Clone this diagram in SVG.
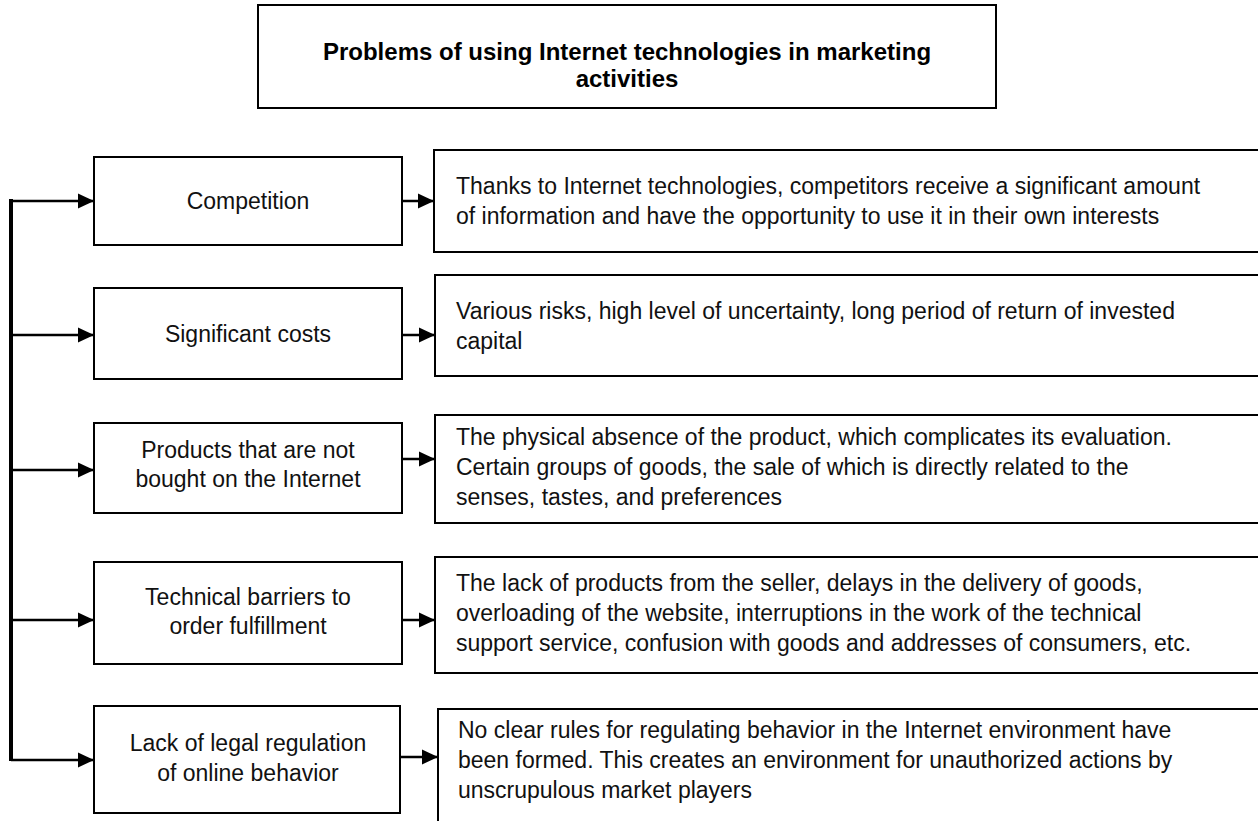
<svg xmlns="http://www.w3.org/2000/svg" width="1258" height="821" viewBox="0 0 1258 821">
<defs>
<marker id="ah" viewBox="0 0 16 16" refX="16" refY="8" markerWidth="16" markerHeight="16" markerUnits="userSpaceOnUse" orient="auto">
<path d="M0,0.5 L16,8 L0,15.5 Z" fill="#000"/>
</marker>
<style>
.box{fill:#fff;stroke:#000;stroke-width:2}
.t{font-family:"Liberation Sans",Arial,sans-serif;font-size:23px;fill:#111}
.c{text-anchor:middle}
.tt{font-family:"Liberation Sans",Arial,sans-serif;font-size:24px;font-weight:bold;fill:#000;text-anchor:middle}
.ln{stroke:#000;stroke-width:2.5;fill:none}
</style>
</defs>
<rect width="1258" height="821" fill="#fff"/>
<g id="title">
<rect class="box" x="258" y="5" width="738" height="103"/>
<text class="tt" x="627" y="60">Problems of using Internet technologies in marketing</text>
<text class="tt" x="627" y="87">activities</text>
</g>
<g id="connectors">
<line x1="11" y1="199" x2="11" y2="761" stroke="#000" stroke-width="4"/>
<line class="ln" x1="11" y1="201" x2="94" y2="201" marker-end="url(#ah)"/>
<line class="ln" x1="11" y1="335" x2="94" y2="335" marker-end="url(#ah)"/>
<line class="ln" x1="11" y1="470" x2="94" y2="470" marker-end="url(#ah)"/>
<line class="ln" x1="11" y1="620" x2="94" y2="620" marker-end="url(#ah)"/>
<line class="ln" x1="11" y1="760" x2="94" y2="760" marker-end="url(#ah)"/>
<line class="ln" x1="402" y1="201" x2="434" y2="201" marker-end="url(#ah)"/>
<line class="ln" x1="402" y1="335" x2="435" y2="335" marker-end="url(#ah)"/>
<line class="ln" x1="402" y1="459" x2="435" y2="459" marker-end="url(#ah)"/>
<line class="ln" x1="402" y1="620" x2="435" y2="620" marker-end="url(#ah)"/>
<line class="ln" x1="400" y1="757" x2="438" y2="757" marker-end="url(#ah)"/>
</g>
<g id="n1">
<rect class="box" x="94" y="157" width="308" height="88"/>
<text class="t c" x="248" y="209">Competition</text>
</g>
<g id="n2">
<rect class="box" x="94" y="288" width="308" height="91"/>
<text class="t c" x="248" y="342">Significant costs</text>
</g>
<g id="n3">
<rect class="box" x="94" y="423" width="308" height="90"/>
<text class="t c" x="248" y="458">Products that are not</text>
<text class="t c" x="248" y="487">bought on the Internet</text>
</g>
<g id="n4">
<rect class="box" x="94" y="562" width="308" height="102"/>
<text class="t c" x="248" y="605">Technical barriers to</text>
<text class="t c" x="248" y="634">order fulfillment</text>
</g>
<g id="n5">
<rect class="box" x="94" y="706" width="306" height="107"/>
<text class="t c" x="248" y="751">Lack of legal regulation</text>
<text class="t c" x="248" y="781">of online behavior</text>
</g>
<g id="d1">
<rect class="box" x="434" y="150" width="840" height="102"/>
<text class="t" x="456" y="194">Thanks to Internet technologies, competitors receive a significant amount</text>
<text class="t" x="456" y="224">of information and have the opportunity to use it in their own interests</text>
</g>
<g id="d2">
<rect class="box" x="435" y="275" width="840" height="101"/>
<text class="t" x="456" y="319">Various risks, high level of uncertainty, long period of return of invested</text>
<text class="t" x="456" y="349">capital</text>
</g>
<g id="d3">
<rect class="box" x="435" y="415" width="840" height="108"/>
<text class="t" x="456" y="445">The physical absence of the product, which complicates its evaluation.</text>
<text class="t" x="456" y="475">Certain groups of goods, the sale of which is directly related to the</text>
<text class="t" x="456" y="505">senses, tastes, and preferences</text>
</g>
<g id="d4">
<rect class="box" x="435" y="557" width="840" height="116"/>
<text class="t" x="456" y="591">The lack of products from the seller, delays in the delivery of goods,</text>
<text class="t" x="456" y="621">overloading of the website, interruptions in the work of the technical</text>
<text class="t" x="456" y="651">support service, confusion with goods and addresses of consumers, etc.</text>
</g>
<g id="d5">
<rect class="box" x="438" y="709" width="840" height="130"/>
<text class="t" x="458" y="738">No clear rules for regulating behavior in the Internet environment have</text>
<text class="t" x="458" y="768">been formed. This creates an environment for unauthorized actions by</text>
<text class="t" x="458" y="798">unscrupulous market players</text>
</g>
</svg>
